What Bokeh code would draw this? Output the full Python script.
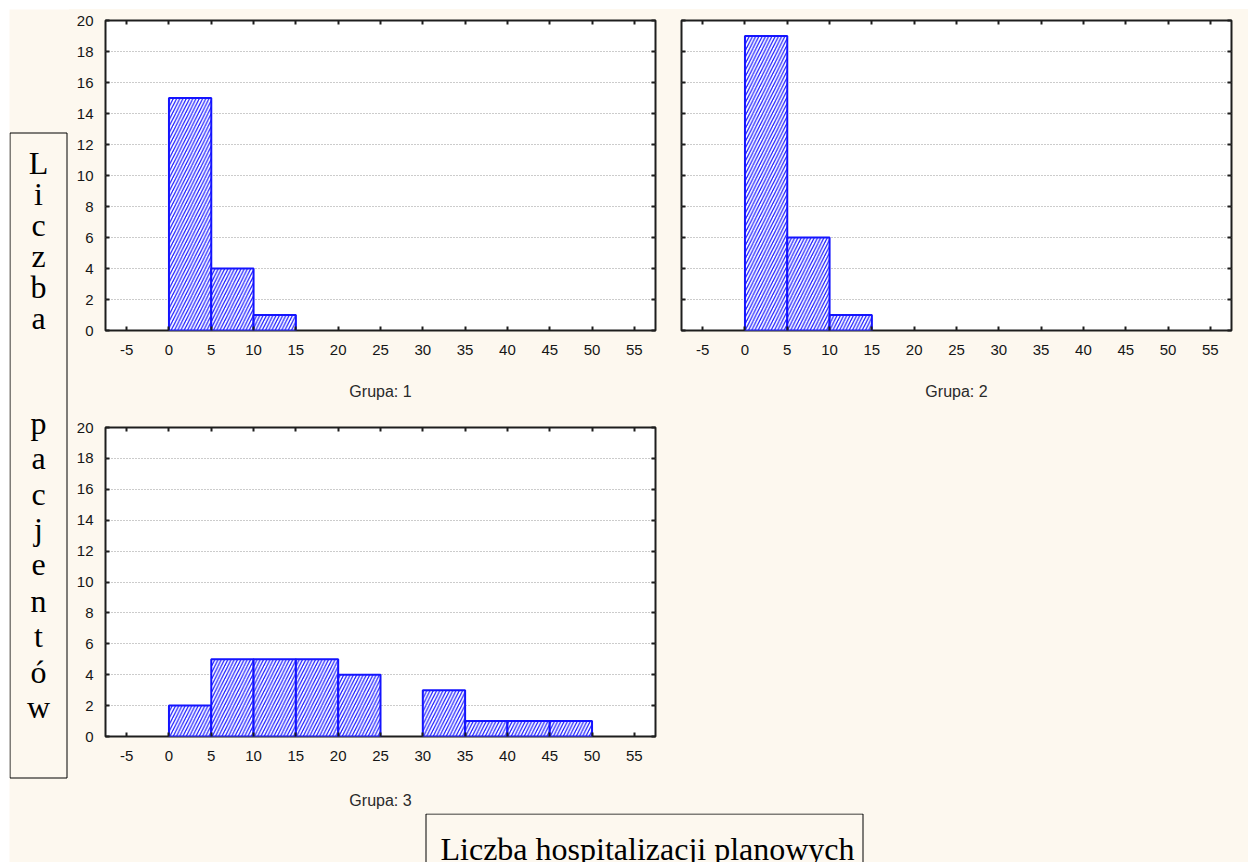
from bokeh.plotting import figure
from bokeh.layouts import row, column
from bokeh.models import Range1d, LinearAxis, FixedTicker, Grid
from bokeh.core.properties import value
from bokeh.embed import file_html
from bokeh.resources import INLINE

# ---------------- data ----------------
bin_left = [0, 5, 10, 15, 20, 25, 30, 35, 40, 45]
bin_width = 5
grupa_1 = [15, 4, 1, 0, 0, 0, 0, 0, 0, 0]
grupa_2 = [19, 6, 1, 0, 0, 0, 0, 0, 0, 0]
grupa_3 = [2, 5, 5, 5, 4, 0, 3, 1, 1, 1]
x_ticks = [-5, 0, 5, 10, 15, 20, 25, 30, 35, 40, 45, 50, 55]
y_ticks = [0, 2, 4, 6, 8, 10, 12, 14, 16, 18, 20]
panel_titles = ["Grupa: 1", "Grupa: 2", "Grupa: 3"]
y_title_letters = ["L", "i", "c", "z", "b", "a", "p", "a", "c", "j", "e", "n", "t", "ó", "w"]
x_title = "Liczba hospitalizacji planowych"

CREAM = "#fdf8ef"
DARK = "#1e1e1e"
BLUE = "#1414ff"
SANS = "Liberation Sans"
SERIF = "Liberation Serif"


def make_panel(counts, title, width, height, mbl, mbr, mbt, mbb, ylabels,
               title_standoff):
    p = figure(width=width, height=height, x_range=Range1d(-7.5, 57.5),
               y_range=Range1d(0, 20), output_backend="svg",
               toolbar_location=None, x_axis_type=None, y_axis_type=None,
               min_border_left=mbl, min_border_right=mbr,
               min_border_top=mbt, min_border_bottom=mbb)
    p.background_fill_color = "white"
    p.border_fill_color = CREAM
    p.outline_line_color = DARK
    p.outline_line_width = 2

    def style(ax, labels):
        ax.axis_line_color = None
        ax.major_tick_in = 4
        ax.major_tick_out = 0
        ax.major_tick_line_color = DARK
        ax.major_tick_line_width = 2
        ax.minor_tick_line_color = None
        ax.major_label_text_font = SANS
        ax.major_label_text_color = "#161616"
        if labels:
            ax.major_label_text_font_size = "15px"
        else:
            ax.major_label_text_font_size = "0px"
            ax.major_label_text_color = None
            ax.major_label_standoff = 0

    bx = LinearAxis(ticker=FixedTicker(ticks=x_ticks), axis_label=title,
                    major_label_overrides={t: str(t) for t in x_ticks})
    style(bx, True)
    bx.major_label_standoff = 14
    bx.axis_label_standoff = title_standoff
    bx.axis_label_text_font = SANS
    bx.axis_label_text_font_style = "normal"
    bx.axis_label_text_font_size = "16px"
    bx.axis_label_text_color = "#2a2a2a"
    p.add_layout(bx, "below")

    tx = LinearAxis(ticker=FixedTicker(ticks=x_ticks))
    style(tx, False)
    p.add_layout(tx, "above")

    ly = LinearAxis(ticker=FixedTicker(ticks=y_ticks))
    style(ly, ylabels)
    if ylabels:
        ly.major_label_standoff = 12
    p.add_layout(ly, "left")

    ry = LinearAxis(ticker=FixedTicker(ticks=y_ticks))
    style(ry, False)
    p.add_layout(ry, "right")

    p.add_layout(Grid(dimension=1, ticker=FixedTicker(ticks=y_ticks[1:-1]),
                      grid_line_color="#999999", grid_line_dash="1 2",
                      grid_line_width=1))

    lefts = [l for l, c in zip(bin_left, counts) if c > 0]
    rights = [l + bin_width for l, c in zip(bin_left, counts) if c > 0]
    tops = [c for c in counts if c > 0]
    p.quad(left=lefts, right=rights, bottom=0, top=tops,
           fill_color="white", line_color=BLUE, line_width=2,
           hatch_pattern="/", hatch_color=BLUE, hatch_scale=6.5,
           hatch_weight=1.2)
    return p


def canvas(width, height, x0, x1, y_top, y_bot, fill=CREAM):
    p = figure(width=width, height=height, x_range=Range1d(x0, x1),
               y_range=Range1d(y_bot, y_top), output_backend="svg",
               toolbar_location=None, x_axis_type=None, y_axis_type=None,
               min_border=0)
    p.background_fill_color = fill
    p.border_fill_color = fill
    p.outline_line_color = None
    return p


# white page margins (top and left)
W_top = canvas(1248, 9, 0, 1248, 0, 9, fill="white")
W_top.scatter(x=[0], y=[0], size=0, alpha=0)
W_left = canvas(9, 853, 0, 9, 9, 862, fill="white")
W_left.scatter(x=[0], y=[0], size=0, alpha=0)

# left strip with the vertical title box (page pixel coordinates)
L = canvas(60, 853, 9, 69, 9, 862)
L.quad(left=[9.5], right=[66.5], top=[132.5], bottom=[777.5],
       fill_color=None, line_color="black", line_width=1)
top_base = [162 + 31 * i for i in range(6)]
bot_base = [422 + 35.6 * i for i in range(9)]
L.text(x=[38] * 15, y=top_base + bot_base, text=y_title_letters,
       text_font=value(SERIF), text_font_size="32px", text_align="center",
       text_baseline="alphabetic", text_color="black")

P1 = make_panel(grupa_1, panel_titles[0], 600, 410, 36, 14, 11, 89, True, 25)
P2 = make_panel(grupa_2, panel_titles[1], 579, 410, 12, 17, 11, 89, False, 25)
P3 = make_panel(grupa_3, panel_titles[2], 600, 394, 36, 14, 8, 77, True, 28)

F = canvas(579, 394, 0, 579, 0, 394)
F.scatter(x=[0], y=[0], size=0, alpha=0)

B = canvas(1179, 49, 69, 1248, 813, 862)
B.quad(left=[425.5], right=[862.5], top=[813.5], bottom=[900],
       fill_color=None, line_color="black", line_width=1)
B.text(x=[440], y=[848], text=[x_title], text_font=value(SERIF),
       text_font_size="32px", text_align="left", text_baseline="alphabetic",
       text_color="black")

cream_bg = {"background-color": CREAM}
rowA = row(P1, P2, styles=cream_bg)
rowB = row(P3, F, styles=cream_bg)
main = column(rowA, rowB, B, styles=cream_bg)
layout = column(W_top, row(W_left, L, main), styles={"background-color": "white"})

open("out.html", "w").write(file_html(layout, INLINE))
